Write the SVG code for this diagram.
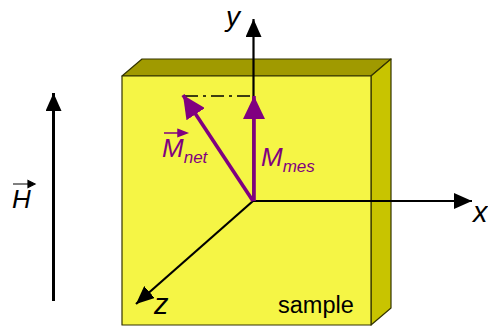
<svg xmlns="http://www.w3.org/2000/svg" width="488" height="329" viewBox="0 0 488 329">
<style>
.e{stroke:#333300;stroke-width:1.2;stroke-linejoin:round}
.k{stroke:#000;fill:none;stroke-width:2.2}
.p{stroke:#800080;fill:none;stroke-width:3.6}
.t{font-family:"Liberation Sans",Arial,sans-serif;font-style:italic}
.u{font-family:"Liberation Sans",Arial,sans-serif}
</style>
<defs>
<marker id="ak" markerUnits="userSpaceOnUse" markerWidth="18" markerHeight="16" refX="18" refY="8" orient="auto" viewBox="0 0 18 16"><path d="M0 0L18 8L0 16Z" fill="#000"/></marker>
<marker id="ap" markerUnits="userSpaceOnUse" markerWidth="23" markerHeight="22" refX="23" refY="11" orient="auto" viewBox="0 0 23 22"><path d="M0 0L23 11L0 22Z" fill="#800080"/></marker>
</defs>
<g id="sample">
<path class="e" d="M122 76L142 59H391L371 76Z" fill="#a09a00"/>
<path class="e" d="M371 76L391 59V308L371 325Z" fill="#c8c400"/>
<rect class="e" x="122" y="76" width="249" height="249" fill="#f5f545"/>
<text class="u" x="278" y="313" font-size="23.500">sample</text>
</g>
<g id="connectors">
<path class="k" d="M253.500 201V19" marker-end="url(#ak)"/>
<path class="k" d="M253 201H472" marker-end="url(#ak)"/>
<path class="k" d="M253 201L136 304" marker-end="url(#ak)"/>
<path d="M185 96H253" fill="none" stroke="#000" stroke-width="1.6" stroke-dasharray="13 5 3 5"/>
<path class="p" d="M254 201V96" marker-end="url(#ap)"/>
<path class="p" d="M253 201L183 95" marker-end="url(#ap)"/>
<path d="M53.500 301V93" fill="none" stroke="#000" stroke-width="3" marker-end="url(#ak)"/>
<path d="M164 133H184M178 129.500L187 133L178 136.500Z" fill="#800080" stroke="#800080" stroke-width="1.500"/>
<path d="M13 184H31M28 180.500L35 184L28 187.500Z" fill="#000" stroke="#000" stroke-width="1.200"/>
</g>
<g id="labels">
<text class="t" x="226" y="25.500" font-size="28">y</text>
<text class="t" x="473" y="222" font-size="29">x</text>
<text class="t" x="154" y="314" font-size="29">z</text>
<text class="t" x="12" y="208" font-size="26">H</text>
<text class="t" x="162" y="157" font-size="26" fill="#800080">M<tspan font-size="17" dy="6">net</tspan></text>
<text class="t" x="261" y="166" font-size="26" fill="#800080">M<tspan font-size="17" dy="6">mes</tspan></text>
</g>
</svg>
